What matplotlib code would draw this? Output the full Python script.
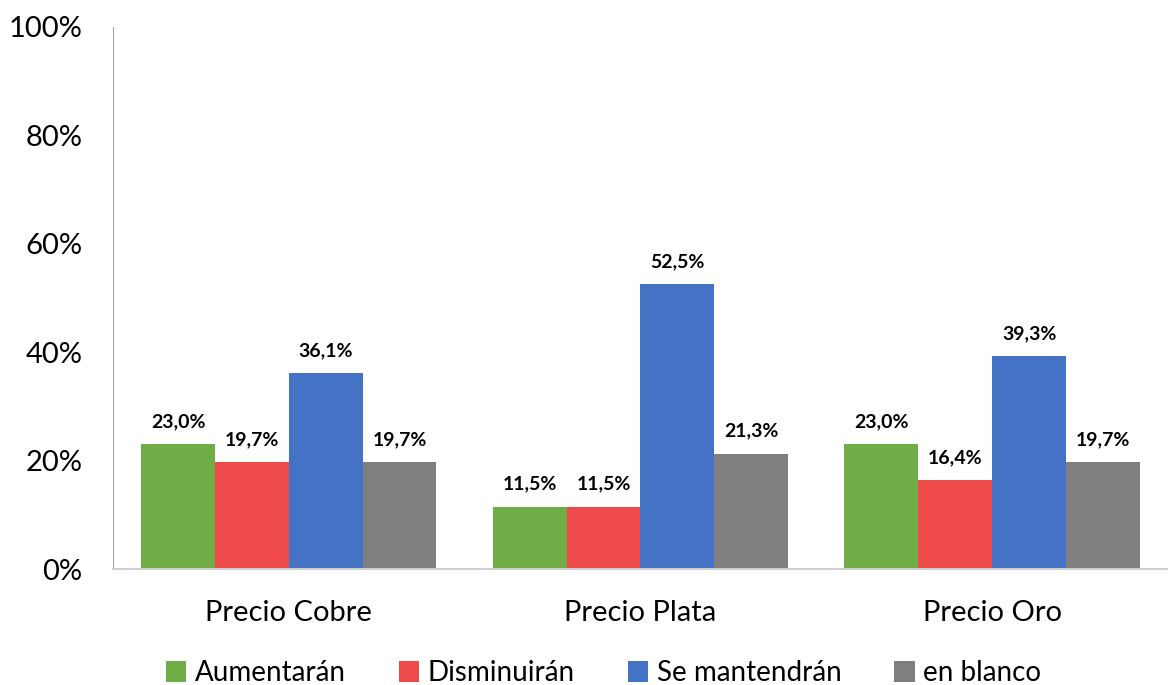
import numpy as np
import matplotlib
matplotlib.use("Agg")
import matplotlib.pyplot as plt
from matplotlib.ticker import FuncFormatter

plt.rcParams['font.family'] = ['Lato', 'DejaVu Sans']

categories = ["Precio Cobre", "Precio Plata", "Precio Oro"]
series_names = ["Aumentarán", "Disminuirán", "Se mantendrán", "en blanco"]
aumentaran = [23.0, 11.5, 23.0]
disminuiran = [19.7, 11.5, 16.4]
mantendran = [36.1, 52.5, 39.3]
en_blanco = [19.7, 21.3, 19.7]
colors = ["#70AD47", "#EF4A4A", "#4472C4", "#7F7F7F"]

series = [aumentaran, disminuiran, mantendran, en_blanco]

fig = plt.figure(figsize=(11.68, 6.85), dpi=100)
ax = fig.add_axes([0.0967, 0.1693, 0.9033, 0.7913])

x = np.arange(len(categories))
width = 0.21
for i, (vals, name, col) in enumerate(zip(series, series_names, colors)):
    pos = x + (i - 1.5) * width
    ax.bar(pos, vals, width, color=col, label=name)
    for p, v in zip(pos, vals):
        ax.text(p, v + 2.6, ("%.1f%%" % v).replace(".", ","), ha="center", va="bottom",
                fontsize=14, fontweight="bold")

ax.set_xlim(-0.5, 2.5)
ax.set_ylim(0, 100)
ax.set_yticks(np.arange(0, 101, 20))
ax.yaxis.set_major_formatter(FuncFormatter(lambda v, _: "%d%%" % v))
ax.set_xticks(x)
ax.set_xticklabels(categories)
ax.tick_params(axis="both", length=0, labelsize=21)
ax.tick_params(axis="x", pad=22)
ax.tick_params(axis="y", pad=22)
for s in ["top", "right"]:
    ax.spines[s].set_visible(False)
ax.spines["left"].set_color("#A6A6A6")
ax.spines["bottom"].set_color("#D0D0D0")
ax.spines["bottom"].set_linewidth(1.5)

ax.legend(loc="lower center", bbox_to_anchor=(0.465, -0.247), ncol=4, frameon=False,
          fontsize=20, handlelength=0.75, handleheight=0.75, handletextpad=0.3,
          columnspacing=1.9, borderpad=0.1)

fig.savefig("out.png", dpi=100)
